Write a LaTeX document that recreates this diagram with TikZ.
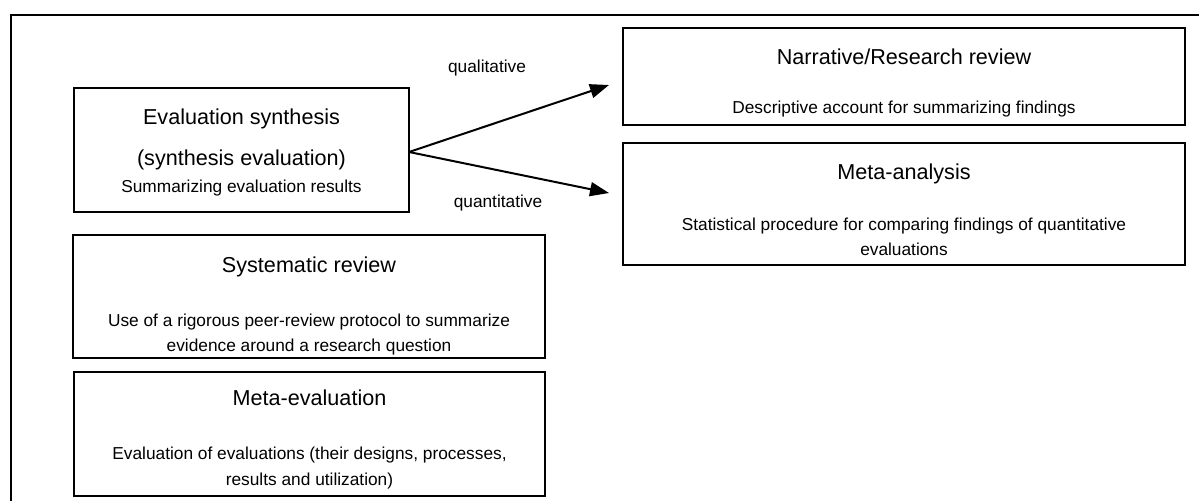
\documentclass[tikz,border=0pt]{standalone}
\usepackage{fontspec}
\setmainfont{Liberation Sans}
\usetikzlibrary{arrows.meta}
\begin{document}
\begin{tikzpicture}[x=1pt,y=-1pt,
  box/.style={draw=black,line width=1.6pt,inner sep=0pt},
  ttl/.style={anchor=base,font=\fontsize{21.6}{26}\selectfont,inner sep=0pt},
  sub/.style={anchor=base,font=\fontsize{17.3}{21}\selectfont,inner sep=0pt},
  lbl/.style={anchor=base,font=\fontsize{17.3}{21}\selectfont,inner sep=0pt},
  arr/.style={line width=2pt,-{Triangle[length=19pt,width=14pt]}}]
\useasboundingbox (0,0) rectangle (1199,501);

% outer frame (top and left edges)
\coordinate (fr) at (1199,15);
\coordinate (fc) at (11,15);
\coordinate (fb) at (11,501);
\draw[line width=1.6pt] (fr) -- (fc) -- (fb);

% boxes
\node[box,minimum width=335pt,minimum height=124pt] (es) at (241.5,150) {};
\node[box,minimum width=562pt,minimum height=97pt]  (nr) at (904,76.5) {};
\node[box,minimum width=562pt,minimum height=122pt] (ma) at (904,204) {};
\node[box,minimum width=472pt,minimum height=123pt] (sr) at (309,296.5) {};
\node[box,minimum width=471pt,minimum height=124pt] (me) at (309.5,434) {};

% evaluation synthesis
\node[ttl] (es1) at (241.5,124) {Evaluation synthesis};
\node[ttl] (es2) at (241.5,165) {(synthesis evaluation)};
\node[sub] (es3) at (241.5,192) {Summarizing evaluation results};

% narrative review
\node[ttl] (nr1) at (904,64) {Narrative/Research review};
\node[sub] (nr2) at (904,113) {Descriptive account for summarizing findings};

% meta-analysis
\node[ttl] (ma1) at (904,179) {Meta-analysis};
\node[sub] (ma2) at (904,230) {Statistical procedure for comparing findings of quantitative};
\node[sub] (ma3) at (904,255) {evaluations};

% systematic review
\node[ttl] (sr1) at (309,272) {Systematic review};
\node[sub] (sr2) at (309,326) {Use of a rigorous peer-review protocol to summarize};
\node[sub] (sr3) at (309,351) {evidence around a research question};

% meta-evaluation
\node[ttl] (me1) at (309.5,405) {Meta-evaluation};
\node[sub] (me2) at (309.5,459) {Evaluation of evaluations (their designs, processes,};
\node[sub] (me3) at (309.5,485) {results and utilization)};

% branching arrows
\coordinate (src) at (409,152);
\coordinate (tq) at (609,85);
\coordinate (tn) at (609,193);
\draw[arr] (src) -- (tq);
\draw[arr] (src) -- (tn);
\node[lbl] (ql) at (487,72) {qualitative};
\node[lbl] (qn) at (498,207) {quantitative};
\end{tikzpicture}
\end{document}
